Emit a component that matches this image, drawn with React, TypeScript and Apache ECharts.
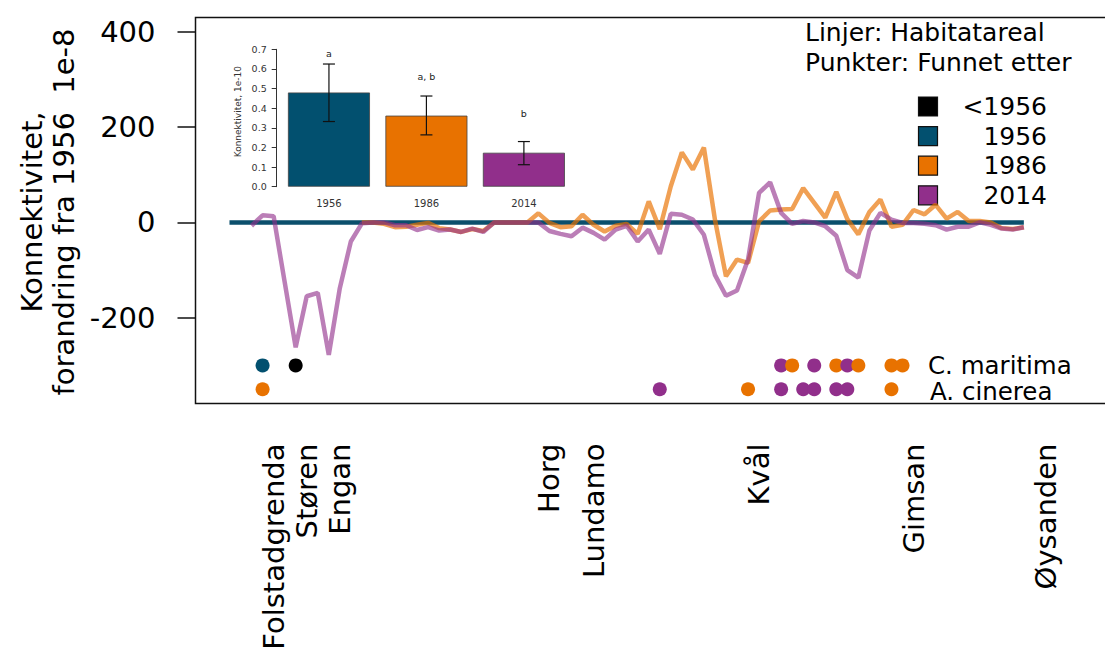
import React, { useEffect, useRef } from "react";
import * as echarts from "echarts";

// ---------- data ----------
// main chart: connectivity change relative to 1956 (1e-8), by position index along the river
const line1956 = [
  0, 0, 0, 0, 0, 0, 0, 0, 0, 0, 0, 0, 0, 0, 0, 0, 0, 0, 0, 0, 0, 0, 0, 0, 0,
  0, 0, 0, 0, 0, 0, 0, 0, 0, 0, 0, 0, 0, 0, 0, 0, 0, 0, 0, 0, 0, 0, 0, 0, 0,
  0, 0, 0, 0, 0, 0, 0, 0, 0, 0, 0, 0, 0, 0, 0, 0, 0, 0, 0, 0, 0, 0, 0,
];
const line1986: (number | null)[] = [
  null, null, null, null, null, null, null, null, null, null, null, null,
  0, 0, -3, -10, -9, -5, -1, -12, -15, -20, -14, -18, 0, 0, 0, 0, 19, -1,
  -10, -8, 16, -5, -19, -7, -3, -24, 44, -14, 76, 147, 111, 157, 6, -113,
  -78, -85, 2, 25, 27, 28, 72, 41, 10, 64, 7, -25, 22, 48, -9, -5, 26, 17,
  37, 8, 22, 3, 3, 0, -12, -14, -10,
];
const line2014: (number | null)[] = [
  null, null, -7, 15, 13, -125, -262, -155, -148, -278, -138, -40, -2, 0,
  0, -6, -6, -16, -10, -17, -15, -20, -13, -20, 0, 0, 0, 0, 0, -18, -24,
  -29, -11, -22, -36, -15, -7, -40, -15, -66, 18, 16, 6, -26, -110, -154,
  -143, -78, 62, 84, 20, -3, 3, 0, -8, -28, -100, -116, -17, 20, 6, -1, -1,
  -3, -6, -15, -9, -9, 0, -5, -13, -15, -10,
];

// site names on the x axis and their positions
const siteNames = ["Folstadgrenda", "Støren", "Engan", "Horg", "Lundamo", "Kvål", "Gimsan", "Øysanden"];
const sitePos = [4, 7, 10, 29, 33, 48, 62, 74];

// found-after points (rows)
const cMaritimaPos = [3, 6, 50, 51, 53, 55, 56, 57, 60, 61];
const cMaritimaYear = ["1956", "<1956", "2014", "1986", "2014", "1986", "2014", "1986", "1986", "1986"];
const aCinereaPos = [3, 39, 47, 50, 52, 53, 55, 56, 60];
const aCinereaYear = ["1986", "2014", "1986", "2014", "2014", "2014", "2014", "2014", "1986"];
const rowValues = { cMaritima: -300, aCinerea: -350 };

// y-axis ticks
const yTicks = [-200, 0, 200, 400];

// inset bar chart (1e-10)
const barYears = ["1956", "1986", "2014"];
const barValues = [0.48, 0.362, 0.173];
const barLow = [0.332, 0.264, 0.112];
const barHigh = [0.625, 0.462, 0.23];
const barLetters = ["a", "a, b", "b"];
const letterY = [0.68, 0.561, 0.371];

// legend
const legendYears = ["<1956", "1956", "1986", "2014"];

// ---------- styles ----------
const yearColor: Record<string, string> = {
  "<1956": "#000000",
  "1956": "#02506F",
  "1986": "#E87200",
  "2014": "#912F8B",
};
const FONT = "DejaVu Sans";

export default function App() {
  const ref = useRef<HTMLDivElement>(null);

  useEffect(() => {
    if (!ref.current) return;
    const chart = echarts.init(ref.current, undefined, { renderer: "svg" });

    const toPairs = (arr: (number | null)[]) =>
      arr.map((v, i) => (v === null ? null : [i, v])).filter((p) => p !== null) as number[][];

    const dots = (pos: number[], years: string[], y: number) =>
      pos.map((p, k) => ({ value: [p, y], itemStyle: { color: yearColor[years[k]], opacity: 1 } }));

    const legendGraphics: any[] = [];
    legendYears.forEach((yr, k) => {
      const cy = 106.5 + k * 29.6;
      legendGraphics.push({
        type: "rect",
        shape: { x: 918.5, y: cy - 9.5, width: 19, height: 19 },
        style: { fill: yearColor[yr], stroke: "#111", lineWidth: 1.2 },
      });
      legendGraphics.push({
        type: "text",
        x: 1047,
        y: cy,
        style: { text: yr, fontSize: 25, lineHeight: 26, fontFamily: FONT, fill: "#000", align: "right", verticalAlign: "middle" },
      });
    });

    const option: any = {
      animation: false,
      textStyle: { fontFamily: FONT },
      grid: [
        {
          left: 195.5, top: 17.5, width: 917.5, height: 386,
          show: true, borderColor: "#111", borderWidth: 1.5, backgroundColor: "transparent",
          containLabel: false, outerBoundsMode: "none",
        },
        { left: 276.7, top: 49.3, width: 293, height: 137.4, containLabel: false, outerBoundsMode: "none" },
      ],
      xAxis: [
        {
          gridIndex: 0,
          type: "value",
          min: -3.08,
          max: 80.08,
          position: "bottom",
          axisLine: { show: false, onZero: false },
          axisTick: { show: false },
          splitLine: { show: false },
          axisLabel: {
            customValues: sitePos,
            formatter: (v: number) => siteNames[sitePos.indexOf(v)] ?? "",
            rotate: 90,
            margin: 40,
            fontSize: 29,
            fontFamily: FONT,
            color: "#000",
          },
        },
        {
          gridIndex: 1,
          type: "value",
          min: -0.536,
          max: 2.47,
          position: "bottom",
          axisLine: { show: false, onZero: false },
          axisTick: { show: false },
          splitLine: { show: false },
          axisLabel: {
            customValues: [0, 1, 2],
            formatter: (v: number) => barYears[Math.round(v)] ?? "",
            fontSize: 10,
            margin: 12,
            fontFamily: FONT,
            color: "#333",
          },
        },
      ],
      yAxis: [
        {
          gridIndex: 0,
          type: "value",
          min: -380,
          max: 430,
          position: "left",
          axisLine: { show: false, onZero: false },
          splitLine: { show: false },
          axisTick: { show: true, customValues: yTicks, length: 18, lineStyle: { color: "#111", width: 1.5 } },
          axisLabel: { customValues: yTicks, fontSize: 29, margin: 40, fontFamily: FONT, color: "#000" },
        },
        {
          gridIndex: 1,
          type: "value",
          min: 0,
          max: 0.7,
          interval: 0.1,
          position: "left",
          axisLine: { show: true, onZero: false, lineStyle: { color: "#333", width: 1 } },
          axisTick: { show: true, length: 5, lineStyle: { color: "#333" } },
          splitLine: { show: false },
          axisLabel: { formatter: (v: number) => v.toFixed(1), fontSize: 9.5, margin: 10, fontFamily: FONT, color: "#333" },
        },
      ],
      series: [
        {
          type: "line",
          xAxisIndex: 0,
          yAxisIndex: 0,
          data: toPairs(line1956),
          showSymbol: false,
          lineStyle: { color: "#0B4F6C", width: 4.5 },
          z: 2,
        },
        {
          type: "line",
          xAxisIndex: 0,
          yAxisIndex: 0,
          data: toPairs(line1986),
          showSymbol: false,
          lineStyle: { color: "rgba(232,114,0,0.67)", width: 4.5 },
          z: 3,
        },
        {
          type: "line",
          xAxisIndex: 0,
          yAxisIndex: 0,
          data: toPairs(line2014),
          showSymbol: false,
          lineStyle: { color: "rgba(145,47,139,0.62)", width: 4.5 },
          z: 4,
        },
        {
          type: "scatter",
          xAxisIndex: 0,
          yAxisIndex: 0,
          symbolSize: 14,
          data: dots(cMaritimaPos, cMaritimaYear, rowValues.cMaritima),
          z: 5,
        },
        {
          type: "scatter",
          xAxisIndex: 0,
          yAxisIndex: 0,
          symbolSize: 14,
          data: dots(aCinereaPos, aCinereaYear, rowValues.aCinerea),
          z: 5,
        },
        {
          type: "bar",
          xAxisIndex: 1,
          yAxisIndex: 1,
          barWidth: 82,
          data: barValues.map((v, k) => ({
            value: [k, v],
            itemStyle: { color: yearColor[barYears[k]], borderColor: "#444", borderWidth: 0.8 },
          })),
          z: 6,
        },
        {
          type: "custom",
          xAxisIndex: 1,
          yAxisIndex: 1,
          data: barLow.map((lo, k) => [k, lo, barHigh[k]]),
          encode: { x: 0, y: [1, 2] },
          renderItem: (params: any, api: any) => {
            const x = api.value(0);
            const pLo = api.coord([x, api.value(1)]);
            const pHi = api.coord([x, api.value(2)]);
            const w = 6;
            const st = { stroke: "#111", lineWidth: 1.2 };
            return {
              type: "group",
              children: [
                { type: "line", shape: { x1: pLo[0], y1: pLo[1], x2: pHi[0], y2: pHi[1] }, style: st },
                { type: "line", shape: { x1: pLo[0] - w, y1: pLo[1], x2: pLo[0] + w, y2: pLo[1] }, style: st },
                { type: "line", shape: { x1: pHi[0] - w, y1: pHi[1], x2: pHi[0] + w, y2: pHi[1] }, style: st },
              ],
            };
          },
          z: 7,
        },
        {
          type: "custom",
          xAxisIndex: 1,
          yAxisIndex: 1,
          data: letterY.map((y, k) => [k, y]),
          renderItem: (params: any, api: any) => {
            const p = api.coord([api.value(0), api.value(1)]);
            return {
              type: "text",
              x: p[0],
              y: p[1],
              style: {
                text: barLetters[params.dataIndex],
                fontSize: 9.5,
                fontFamily: FONT,
                fill: "#222",
                align: "center",
                verticalAlign: "middle",
              },
            };
          },
          z: 7,
        },
      ],
      graphic: [
        {
          type: "text",
          x: 47.5,
          y: 212,
          rotation: Math.PI / 2,
          style: {
            text: "Konnektivitet,\nforandring fra 1956  1e-8",
            fontSize: 29,
            lineHeight: 32,
            fontFamily: FONT,
            fill: "#000",
            align: "center",
            verticalAlign: "middle",
          },
        },
        {
          type: "text",
          x: 237.7,
          y: 111.7,
          rotation: Math.PI / 2,
          style: {
            text: "Konnektivitet, 1e-10",
            fontSize: 9,
            fontFamily: FONT,
            fill: "#333",
            align: "center",
            verticalAlign: "middle",
          },
        },
        {
          type: "text",
          x: 805,
          y: 32,
          style: { text: "Linjer: Habitatareal", fontSize: 25, lineHeight: 28, fontFamily: FONT, fill: "#000", align: "left", verticalAlign: "middle" },
        },
        {
          type: "text",
          x: 805,
          y: 62,
          style: { text: "Punkter: Funnet etter", fontSize: 25, lineHeight: 28, fontFamily: FONT, fill: "#000", align: "left", verticalAlign: "middle" },
        },
        ...legendGraphics,
        {
          type: "text",
          x: 928,
          y: 365,
          style: { text: "C. maritima", fontSize: 24.5, lineHeight: 23, fontFamily: FONT, fill: "#000", align: "left", verticalAlign: "middle" },
        },
        {
          type: "text",
          x: 930,
          y: 391,
          style: { text: "A. cinerea", fontSize: 24.5, lineHeight: 23, fontFamily: FONT, fill: "#000", align: "left", verticalAlign: "middle" },
        },
      ],
    };

    chart.setOption(option);
    return () => chart.dispose();
  }, []);

  return (
    <div
      ref={ref}
      style={{ position: "absolute", left: 0, top: 0, width: 1105, height: 661, background: "#fff" }}
    />
  );
}
